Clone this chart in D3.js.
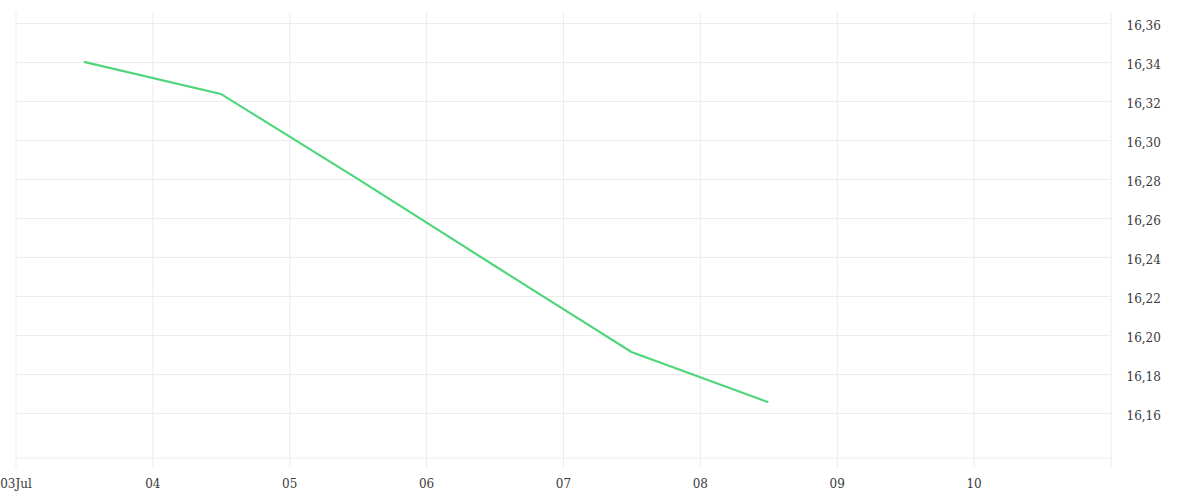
<!DOCTYPE html>
<html>
<head>
<meta charset="utf-8">
<script src="https://cdn.jsdelivr.net/npm/d3@7"></script>
<style>
  body { margin: 0; background: #fff; }
  text { font-family: "DejaVu Serif", serif; }
</style>
</head>
<body>
<div id="chart"></div>
<script>
// data
const dates = ["2024-07-03T12:00", "2024-07-04T12:00", "2024-07-05T12:00",
               "2024-07-06T12:00", "2024-07-07T12:00", "2024-07-08T12:00"];
const values = [16.34, 16.3236, 16.28, 16.2355, 16.1913, 16.1655];
const yTicks = [16.16, 16.18, 16.20, 16.22, 16.24, 16.26, 16.28, 16.30, 16.32, 16.34, 16.36];
const xDomain = ["2024-07-03T00:00", "2024-07-11T00:00"];
const yDomain = [16.1369, 16.3656];

const W = 1200, H = 500;
const plotL = 15.5, plotR = 1110.5, plotT = 12, plotB = 458;

const parse = d3.timeParse("%Y-%m-%dT%H:%M");
const data = dates.map((d, i) => ({ date: parse(d), value: values[i] }));

const x = d3.scaleTime().domain(xDomain.map(parse)).range([plotL, plotR]);
const y = d3.scaleLinear().domain(yDomain).range([plotB, plotT]);

const locale = d3.formatLocale({ decimal: ",", thousands: ".", grouping: [3], currency: ["", "€"] });
const fmt = locale.format(".2f");

const svg = d3.select("#chart").append("svg")
  .attr("width", W).attr("height", H);

// horizontal grid
svg.append("g")
  .attr("transform", `translate(${plotL},0)`)
  .call(d3.axisRight(y).tickValues(yTicks).tickSize(plotR - plotL).tickFormat(""))
  .call(g => g.select(".domain").remove())
  .call(g => g.selectAll("line").attr("stroke", "#ececec"));

// vertical grid
const xTicks = d3.timeDay.range(parse(xDomain[0]), d3.timeDay.offset(parse(xDomain[1]), 1));
svg.append("g")
  .attr("transform", `translate(0,${plotT})`)
  .call(d3.axisBottom(x).tickValues(xTicks).tickSize(plotB + 10 - plotT).tickFormat(""))
  .call(g => g.select(".domain").remove())
  .call(g => g.selectAll("line").attr("stroke", "#ececec"));

svg.append("line")
  .attr("x1", plotL).attr("x2", plotR)
  .attr("y1", plotB).attr("y2", plotB)
  .attr("stroke", "#ececec");

// x labels
const xAxis = svg.append("g")
  .attr("transform", `translate(0,${plotB})`)
  .call(d3.axisBottom(x).tickValues(xTicks.slice(0, -1)).tickSize(0).tickPadding(21)
    .tickFormat((d, i) => i === 0 ? d3.timeFormat("%d")(d) + "Jul" : d3.timeFormat("%d")(d)));
xAxis.select(".domain").remove();
xAxis.selectAll("text").attr("fill", "#3a3a3a").attr("font-size", 12);

// y labels on the right
const yAxis = svg.append("g")
  .attr("transform", `translate(${plotR},0)`)
  .call(d3.axisRight(y).tickValues(yTicks).tickSize(0).tickPadding(16).tickFormat(fmt));
yAxis.select(".domain").remove();
yAxis.selectAll("text").attr("fill", "#3a3a3a").attr("font-size", 12).attr("dy", "0.55em");

// the series
const line = d3.line().x(d => x(d.date)).y(d => y(d.value));
svg.append("path")
  .datum(data)
  .attr("fill", "none")
  .attr("stroke", "#4fd67a")
  .attr("stroke-width", 2.2)
  .attr("d", line);
</script>
</body>
</html>
